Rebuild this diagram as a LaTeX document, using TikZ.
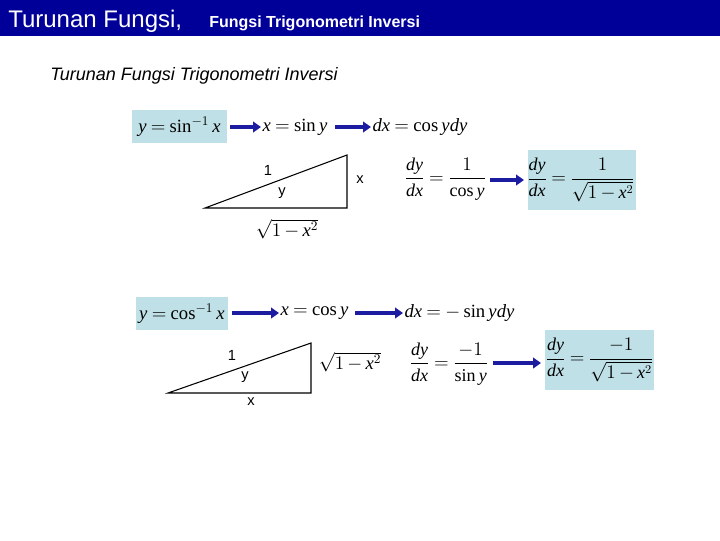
\documentclass[tikz,border=0pt]{standalone}
\usepackage{amsmath}
\usepackage{fontspec}
\setmainfont{Liberation Serif}
\setsansfont{Liberation Sans}
\usetikzlibrary{arrows.meta, positioning}
\definecolor{barblue}{HTML}{000099}
\definecolor{arrowblue}{HTML}{1C1CA0}
\definecolor{boxblue}{HTML}{BEE0E6}
\newcommand{\vi}[1]{\mathit{#1}}
\thickmuskip=4mu plus 2mu
\medmuskip=3mu plus 1mu

\begin{document}
\begin{tikzpicture}[x=0.75pt, y=-0.75pt,
    eq/.style={font=\fontsize{14}{16}\selectfont, inner sep=1pt},
    frac/.style={font=\fontsize{13.5}{16}\selectfont, inner sep=1pt},
    flow/.style={draw=arrowblue, line width=2.4pt, -{Triangle[length=6pt, width=8pt]}},
    side/.style={font=\sffamily\fontsize{11}{13}\selectfont, inner sep=0pt},
    tri/.style={draw=black, line width=0.8pt}
]
\useasboundingbox (0,0) rectangle (720,540);

% Title bar
\fill[barblue] (0,0) rectangle (720,36);
\node[anchor=base west, text=white, font=\sffamily\fontsize{18}{20}\selectfont, inner sep=0pt] (title) at (8,27) {Turunan Fungsi,};
\node[anchor=base west, text=white, font=\sffamily\bfseries\fontsize{12}{14}\selectfont, inner sep=0pt] (subtitle) at (209,27) {Fungsi Trigonometri Inversi};
\node[anchor=base west, font=\sffamily\itshape\fontsize{13.5}{16}\selectfont, inner sep=0pt] (heading) at (50,80) {Turunan Fungsi Trigonometri Inversi};

% Invers sinus
\fill[boxblue] (132,110) rectangle (227,143);
\node[eq] (sinA) at (179.5,127) {$\vi{y}=\sin^{-1}\vi{x}$};
\node[eq, anchor=west] (sinB) at (261,127) {$\vi{x}=\sin \vi{y}$};
\node[eq, anchor=west] (sinC) at (371,127) {$\vi{dx}=\cos \vi{ydy}$};
\draw[flow] (230,127) -- (sinB.west);
\draw[flow] (335,127) -- (sinC.west);

\coordinate (s1) at (205,208);
\coordinate (s2) at (347,155);
\coordinate (s3) at (347,208);
\draw[tri] (s1) -- (s2) -- (s3) -- cycle;
\node[side] (sinHyp) at (268,170) {1};
\node[side] (sinAng) at (282,193) {y};
\node[side] (sinOpp) at (360,180) {x};
\node[eq] (sinAdj) at (287,229) {$\sqrt{1-\vi{x}^{2}}$};

\node[frac, anchor=west] (sinD) at (403,179) {$\dfrac{\vi{dy}}{\vi{dx}}=\dfrac{1}{\cos \vi{y}}$};
\fill[boxblue] (528,150) rectangle (636,210);
\node[frac] (sinE) at (581,180) {$\dfrac{\vi{dy}}{\vi{dx}}=\dfrac{1}{\sqrt{1-\vi{x}^{2}}}$};
\draw[flow] (490,180) -- (524,180);

% Invers cosinus
\fill[boxblue] (136,297) rectangle (228,330);
\node[eq] (cosA) at (182,314) {$\vi{y}=\cos^{-1}\vi{x}$};
\node[eq, anchor=west] (cosB) at (279,313) {$\vi{x}=\cos \vi{y}$};
\node[eq, anchor=west] (cosC) at (403,313) {$\vi{dx}=-\sin \vi{ydy}$};
\draw[flow] (232,313) -- (cosB.west);
\draw[flow] (355,313) -- (cosC.west);

\coordinate (c1) at (168,393);
\coordinate (c2) at (311,343);
\coordinate (c3) at (311,393);
\draw[tri] (c1) -- (c2) -- (c3) -- cycle;
\node[side] (cosHyp) at (232,355) {1};
\node[side] (cosAng) at (245,377) {y};
\node[side] (cosAdj) at (251,402) {x};
\node[eq] (cosOpp) at (350,362) {$\sqrt{1-\vi{x}^{2}}$};

\node[frac, anchor=west] (cosD) at (408,364) {$\dfrac{\vi{dy}}{\vi{dx}}=\dfrac{-1}{\sin \vi{y}}$};
\fill[boxblue] (545,330) rectangle (654,390);
\node[frac] (cosE) at (599.5,360) {$\dfrac{\vi{dy}}{\vi{dx}}=\dfrac{-1}{\sqrt{1-\vi{x}^{2}}}$};
\draw[flow] (493,363) -- (541,363);
\end{tikzpicture}
\end{document}
